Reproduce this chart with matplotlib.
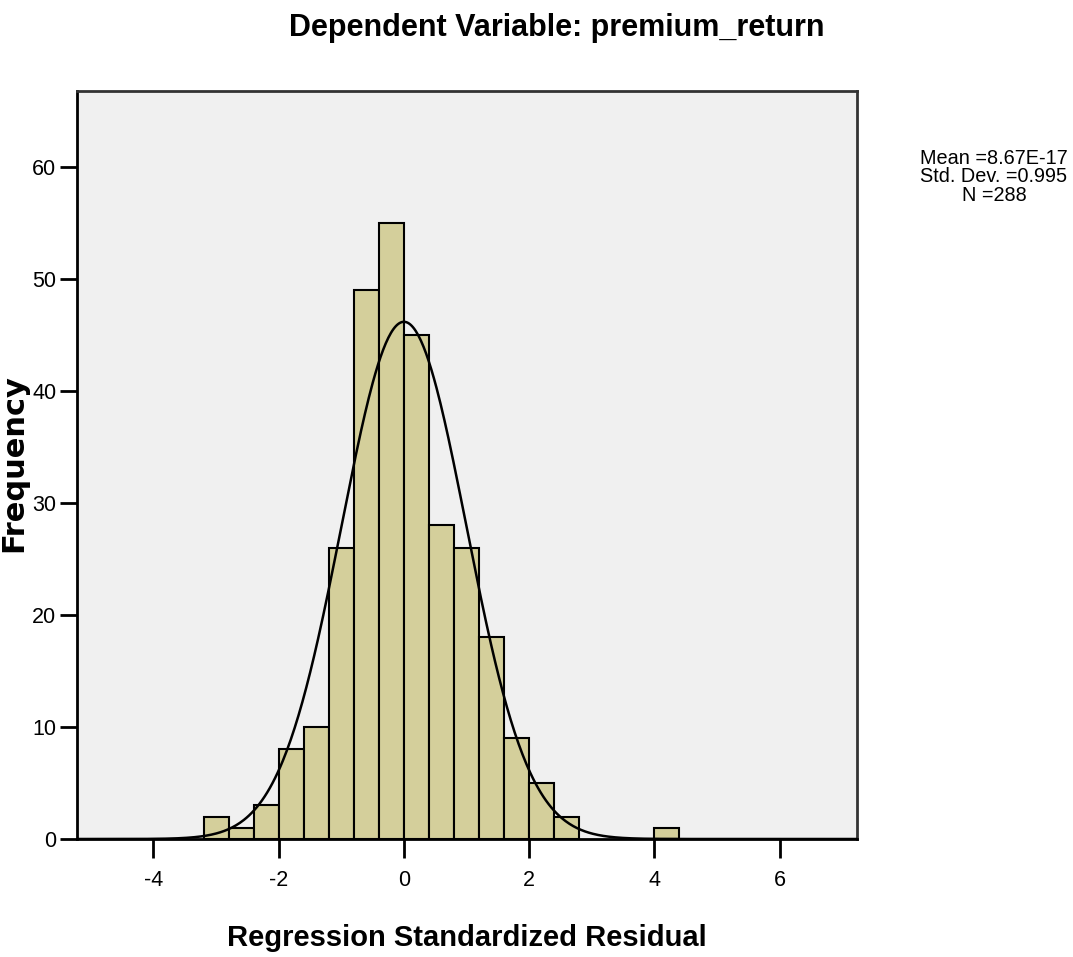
import numpy as np
import matplotlib
matplotlib.use("Agg")
import matplotlib.pyplot as plt

# Histogram data (bin left edges and counts, bin width 0.4)
bin_lefts = [-3.2, -2.8, -2.4, -2.0, -1.6, -1.2, -0.8, -0.4, 0.0, 0.4, 0.8, 1.2, 1.6, 2.0, 2.4, 4.0]
counts = [2, 1, 3, 8, 10, 26, 49, 55, 45, 28, 26, 18, 9, 5, 2, 1]
bin_width = 0.4
mean_val = 8.67e-17
std_val = 0.995
n_val = 288
x_ticks = [-4, -2, 0, 2, 4, 6]
y_ticks = [0, 10, 20, 30, 40, 50, 60]
stats_lines = ['Mean =8.67E-17', 'Std. Dev. =0.995', 'N =288']

plt.rcParams['font.family'] = ['Liberation Sans', 'DejaVu Sans']

W, H = 1073, 957
fig = plt.figure(figsize=(W / 100, H / 100), dpi=100)
ax = fig.add_axes([0.0718, 0.1233, 0.7272, 0.7816])
ax.set_facecolor('#f0f0f0')

ax.bar(bin_lefts, counts, width=bin_width, align='edge',
       color='#d4cf9b', edgecolor='black', linewidth=1.5, zorder=2)

xs = np.linspace(-5.22, 7.24, 600)
ys = n_val * bin_width * np.exp(-0.5 * ((xs - mean_val) / std_val) ** 2) / (std_val * np.sqrt(2 * np.pi))
ax.plot(xs, ys, color='black', linewidth=1.8, zorder=3)

ax.set_xlim(-5.22, 7.24)
ax.set_ylim(0, 66.8)
ax.set_xticks(x_ticks)
ax.set_yticks(y_ticks)
ax.set_xticklabels([str(t) for t in x_ticks])
ax.set_yticklabels([str(t) for t in y_ticks])
ax.tick_params(axis='both', direction='out', length=12, width=2, labelsize=15.5, colors='black')
ax.tick_params(axis='x', length=14, pad=8)
ax.tick_params(axis='y', pad=3)
for s in ax.spines.values():
    s.set_linewidth(2)
    s.set_color('#333333')
ax.spines['bottom'].set_color('black')
ax.spines['left'].set_color('black')

fig.text(467 / W, 1 - 938 / H, 'Regression Standardized Residual', ha='center', va='center',
         fontsize=21, fontweight='bold')
fig.text(14 / W, 1 - 463 / H, 'Frequency', ha='center', va='center', rotation=90,
         fontsize=22, fontweight='bold', family='DejaVu Sans')

fig.text(557 / W, 1 - 28 / H, 'Dependent Variable: premium_return', ha='center', va='center',
         fontsize=22, fontweight='bold')

for i, line in enumerate(stats_lines):
    fig.text(994 / W, 1 - (158 + 18.5 * i) / H, line, ha='center', va='center', fontsize=14.3)

fig.savefig('out.png', dpi=100, facecolor='white')
